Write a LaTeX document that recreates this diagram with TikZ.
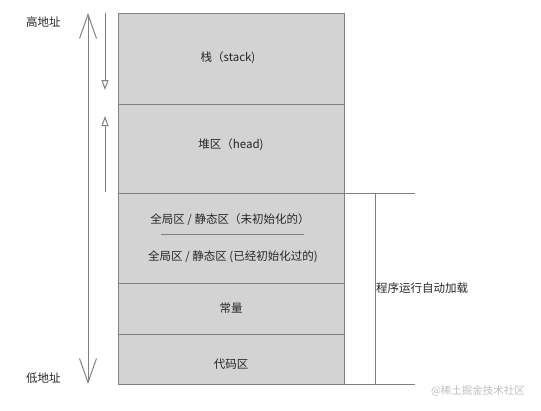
\documentclass[tikz,border=0pt]{standalone}
\usepackage{fontspec}
\setmainfont{Noto Sans CJK SC}
\usetikzlibrary{arrows.meta}
\definecolor{boxfill}{RGB}{211,211,211}
\definecolor{edgegray}{RGB}{128,128,128}
\definecolor{wmgray}{RGB}{190,190,190}
\begin{document}
\begin{tikzpicture}[x=1pt,y=-1pt,
  seg/.style={draw=edgegray,fill=boxfill,line width=1pt,minimum width=226pt,inner sep=0pt,outer sep=0pt},
  lbl/.style={font=\fontsize{11.5}{13}\selectfont,text=black!85,inner sep=0pt},
  ln/.style={draw=edgegray,line width=1pt},
  bigarrow/.style={ln,{Straight Barb[length=24pt,width=17pt,line width=1pt]}-{Straight Barb[length=24pt,width=17pt,line width=1pt]}},
  smallarrow/.style={ln,-{Triangle[open,length=10pt,width=7pt]}}]
\useasboundingbox (0,0) rectangle (541,410);
% segments
\node[seg,minimum height=91pt] (stack) at (231,58.5) {};
\node[seg,minimum height=89pt] (heap) at (231,148.5) {};
\node[seg,minimum height=90pt] (global) at (231,238) {};
\node[seg,minimum height=51pt] (const) at (231,308.5) {};
\node[seg,minimum height=50pt] (code) at (231,359) {};
% texts
\node[lbl] (tstack) at (228,58) {栈（stack)};
\node[lbl] (theap) at (231,145) {堆区（head)};
\node[lbl] (tuninit) at (230,220) {全局区 / 静态区（未初始化的）};
\node[lbl] (tinit) at (233,257) {全局区 / 静态区 (已经初始化过的)};
\coordinate (s1) at (161,234);
\coordinate (s2) at (304,234);
\draw[ln,line width=0.8pt] (s1) -- (s2);
\node[lbl] (tconst) at (231,308) {常量};
\node[lbl] (tcode) at (231,364) {代码区};
% address arrow
\node[lbl,anchor=west] (high) at (26,22) {高地址};
\node[lbl,anchor=west] (low) at (26,378) {低地址};
\coordinate (atop) at (88,13);
\coordinate (abot) at (88,384);
\draw[bigarrow] (abot) -- (atop);
% growth arrows
\coordinate (sa1) at (105,13);
\coordinate (sa2) at (105,90);
\draw[smallarrow] (sa1) -- (sa2);
\coordinate (ha1) at (105,192);
\coordinate (ha2) at (105,116);
\draw[smallarrow] (ha1) -- (ha2);
% bracket
\coordinate (bt) at (415,193);
\coordinate (bb) at (415,384);
\coordinate (vt) at (375,193);
\coordinate (vb) at (375,384);
\draw[ln] (global.north east) -- (bt);
\draw[ln] (code.south east) -- (bb);
\draw[ln] (vt) -- (vb);
\node[lbl,anchor=west] (auto) at (376,288) {程序运行自动加载};
% watermark
\node[font=\fontsize{10.5}{12}\selectfont,text=wmgray,inner sep=0pt] (wm) at (478,391) {@稀土掘金技术社区};
\end{tikzpicture}
\end{document}
